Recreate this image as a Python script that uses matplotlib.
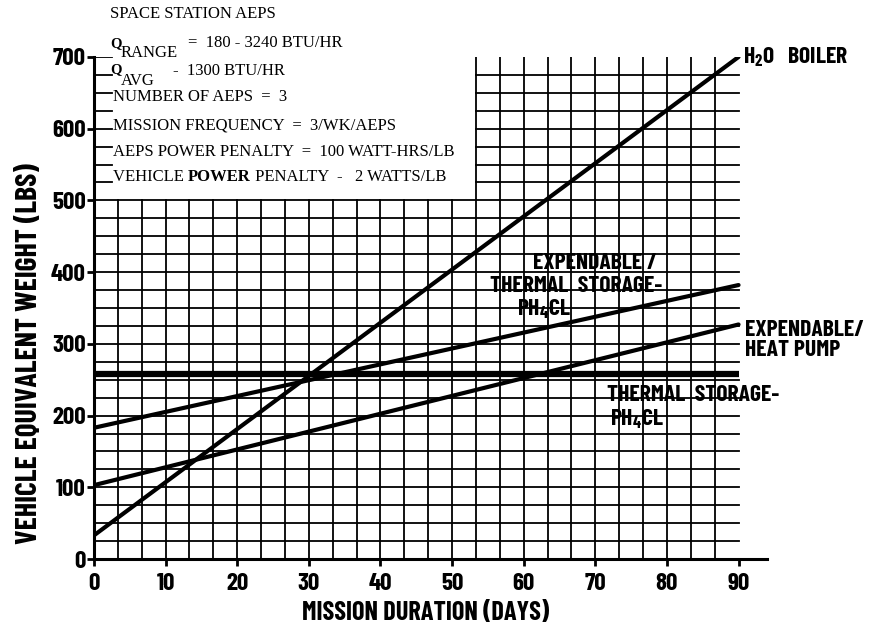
import matplotlib
matplotlib.use("Agg")
import matplotlib.pyplot as plt
import numpy as np

# mission duration (days) end points of each straight line
days = [0, 90]
h2o_boiler = [33, 700]
exp_thermal = [183, 382]
exp_heat_pump = [103, 327]
thermal_storage = [258, 258]

x_ticks = [0, 10, 20, 30, 40, 50, 60, 70, 80, 90]
y_ticks = [0, 100, 200, 300, 400, 500, 600, 700]

info_lines = [
    "NUMBER OF AEPS  =  3",
    "MISSION FREQUENCY  =  3/WK/AEPS",
    "AEPS POWER PENALTY  =  100 WATT-HRS/LB",
]
info_y = [644, 604, 568]

narrow = ["Barlow Condensed", "DejaVu Sans"]
serif = ["Liberation Serif", "DejaVu Serif"]
plt.rcParams["mathtext.fontset"] = "custom"
plt.rcParams["mathtext.rm"] = "Barlow Condensed:bold"
plt.rcParams["mathtext.default"] = "rm"

fig = plt.figure(figsize=(8.72, 6.26), dpi=100)
ax = fig.add_axes([0.1078, 0.107, 0.772, 0.802])
ax.set_xlim(0, 94)
ax.set_ylim(0, 700)

# grid: full below 500, only right block above 500
gcol = "black"
glw = 1.3
step_x = 10 / 3
for k in range(1, 27):
    gx = k * step_x
    top = 700 if k >= 16 else 500
    ax.plot([gx, gx], [0, top], color=gcol, lw=glw, zorder=1)
for gy in np.arange(25, 501, 25):
    ax.plot([0, 90], [gy, gy], color=gcol, lw=glw, zorder=1)
for gy in np.arange(525, 676, 25):
    ax.plot([16 * step_x, 90], [gy, gy], color=gcol, lw=glw, zorder=1)
for gy in np.arange(525, 701, 25):
    ax.plot([0, 2.5], [gy, gy], color=gcol, lw=glw, zorder=1)

# curves
ax.plot(days, h2o_boiler, color="black", lw=3.0, solid_capstyle="round", zorder=3)
ax.plot(days, exp_thermal, color="black", lw=3.0, solid_capstyle="round", zorder=3)
ax.plot(days, exp_heat_pump, color="black", lw=3.0, solid_capstyle="round", zorder=3)
ax.plot(days, thermal_storage, color="black", lw=4.5, solid_capstyle="butt", zorder=3)

# spines / ticks
for s in ["top", "right"]:
    ax.spines[s].set_visible(False)
ax.spines["left"].set_linewidth(2.2)
ax.spines["bottom"].set_linewidth(2.2)
ax.set_xticks(x_ticks)
ax.set_yticks(y_ticks)
ax.tick_params(axis="both", direction="out", length=5, width=2, color="black")
ax.tick_params(axis="x", pad=5)
ax.tick_params(axis="y", pad=1)
for lab in ax.get_xticklabels() + ax.get_yticklabels():
    lab.set_family(narrow)
    lab.set_fontweight("bold")
    lab.set_fontsize(18)

ax.set_xlabel("MISSION DURATION (DAYS)", family=narrow, fontweight="bold", fontsize=19)
ax.xaxis.set_label_coords(0.492, -0.084)
ax.set_ylabel("VEHICLE EQUIVALENT WEIGHT (LBS)", family=narrow, fontweight="bold", fontsize=21.5)
ax.yaxis.set_label_coords(-0.0755, 0.410)

# curve labels
lbl = dict(family=narrow, fontweight="bold", fontsize=17, va="center", ha="left", zorder=4, clip_on=False)
ax.text(90.6, 700, "H$_2$O   BOILER", **lbl)
ax.text(61.3, 413, "EXPENDABLE /", **lbl)
ax.text(55.3, 380, "THERMAL  STORAGE-", **lbl)
ax.text(59.1, 348, "PH$_4$CL", **lbl)
ax.text(90.9, 319, "EXPENDABLE/", **lbl)
ax.text(90.9, 291, "HEAT PUMP", **lbl)
ax.text(71.6, 228, "THERMAL  STORAGE-", **lbl)
ax.text(72.1, 195, "PH$_4$CL", **lbl)

# info block
info = dict(family=serif, fontsize=12, va="center", ha="left", clip_on=False)
ax.text(2.23, 760, "SPACE STATION AEPS", **info)
ax.text(2.23, 718, "Q", fontweight="bold", **{**info, "fontsize": 10.5})
ax.text(3.77, 705, "RANGE", **info)
ax.text(13.1, 719, "=  180 - 3240 BTU/HR", **info)
ax.text(2.23, 683, "Q", fontweight="bold", **{**info, "fontsize": 10.5})
ax.text(3.77, 667, "AVG", **info)
ax.text(11.0, 681, "-  1300 BTU/HR", **info)
for txt, yy in zip(info_lines, info_y):
    ax.text(2.65, yy, txt, **info)

# last line has "POWER" in bold
t1 = ax.text(2.65, 533, "VEHICLE ", **info)
piece = dict(family=serif, fontsize=12, va="bottom", ha="left", annotation_clip=False)
t2 = ax.annotate("POWER", xy=(1, 0), xycoords=t1, fontweight="bold", **piece)
ax.annotate(" PENALTY  -   2 WATTS/LB", xy=(1, 0), xycoords=t2, **piece)

fig.savefig("out.png", dpi=100)
